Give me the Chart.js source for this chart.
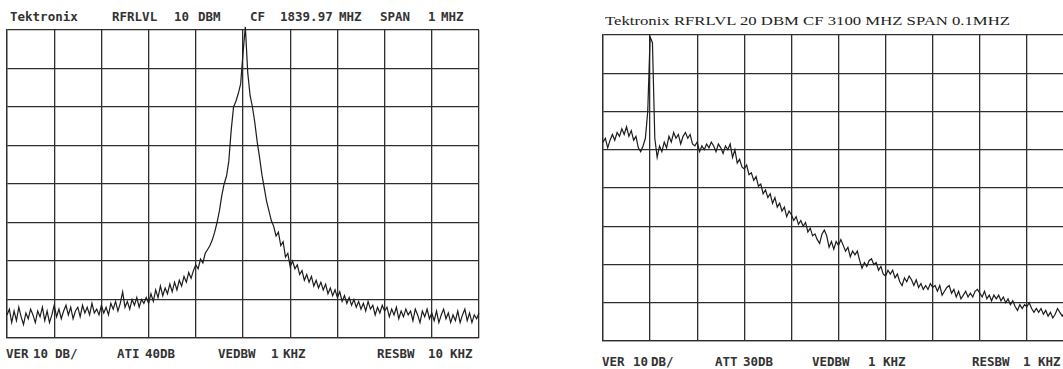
<!DOCTYPE html>
<html><head><meta charset="utf-8">
<script src="https://cdn.jsdelivr.net/npm/chart.js@4.4.1/dist/chart.umd.min.js"></script>
<style>
html,body{margin:0;padding:0;background:#fff;width:1063px;height:369px;overflow:hidden;position:relative}
.box{position:absolute}
.t{position:absolute;font-family:"DejaVu Sans Mono",monospace;font-weight:bold;font-size:12.5px;line-height:13px;color:#333;white-space:pre;transform-origin:0 0}
.s{font-family:"Liberation Serif","Times New Roman",serif;font-weight:normal;font-size:13.5px;line-height:13.5px;color:#222}
</style></head><body>
<div class="box" id="bl" style="left:3px;top:26px;width:480px;height:316px"><canvas id="cl"></canvas></div>
<div class="box" id="br" style="left:599px;top:31px;width:479px;height:314px"><canvas id="cr"></canvas></div>
<script>
// Left trace: RFRLVL 10 dBm, 10 dB/div, 201 sweep points across 1 MHz span
const leftLevels = [
 -64,-62.5,-66,-63,-65.5,-62,-64.5,-66.5,-63.5,-65,
 -62.5,-64,-66,-63,-64.5,-62,-65.5,-63,-66,-64,
 -61.5,-64.5,-62.5,-65,-63,-61.5,-64,-62,-65,-63,
 -62,-64.5,-61.5,-63.5,-62,-64,-61,-63.5,-62.5,-64,
 -61.5,-63.5,-62,-64,-61,-62.5,-60.5,-63,-61,-58,
 -62,-60.5,-62.5,-60,-61.5,-59.5,-62,-60,-61,-59.5,
 -61,-58.5,-60.5,-57.5,-59.5,-56.5,-59,-57,-58.5,-56,
 -58,-55.5,-57.5,-55,-56.5,-54,-55.5,-53,-54.5,-52.5,
 -51,-52,-49.5,-50.5,-48,-47,-46,-44.5,-42.5,-40,
 -37,-33,-30,-28,-24,-16,-10,-8.5,-6.5,-4,
 4,10.8,-1,-7,-10,-14,-19,-23,-27.5,-31,
 -34.5,-37,-39.5,-41,-43.5,-42.5,-46,-45,-49,-48,
 -51.5,-50,-52,-51,-53.5,-52.5,-55,-53.5,-55.5,-54,
 -56.5,-55,-57,-55.5,-57.5,-56,-58.5,-57,-59,-57.5,
 -59.5,-58,-60.5,-59,-61,-59.5,-61.5,-60,-62,-60.5,
 -62.5,-61,-63,-60.5,-62.5,-61.5,-64,-62,-63.5,-61.5,
 -63,-62,-64.5,-62.5,-64,-62,-65,-63,-64.5,-62.5,
 -64,-63,-65.5,-62.5,-64,-66,-63,-64.5,-62.5,-65,
 -63.5,-65.5,-63,-66,-64,-62.5,-65,-63.5,-66,-64,
 -65.5,-63,-66,-64,-62.5,-65.5,-63.5,-66,-64,-65,-63.5
];
// Right trace: RFRLVL 20 dBm, 10 dB/div, 201 sweep points across 0.1 MHz span
const rightLevels = [
 -8,-7,-9.5,-7.5,-6,-7.5,-5.5,-6.5,-4.5,-6,
 -4,-6.5,-5,-7.5,-6.5,-9.5,-10.5,-9,-7,0,
 19.5,18,-7,-12,-9,-10.5,-8,-9.5,-6.5,-8,
 -5.5,-7,-6,-8.5,-6.5,-5.5,-7,-6,-8.5,-9,
 -8,-10.5,-9,-10,-8.5,-9.5,-8,-9,-10.5,-8.5,
 -9.5,-11,-9,-10,-8.5,-12,-10,-13.5,-12.5,-14.5,
 -15,-14,-16.5,-16,-18,-17,-19.5,-19,-21.5,-20.5,
 -22.5,-21.5,-24,-22.5,-25,-24,-26,-25,-27.5,-26,
 -27,-28.5,-27.5,-29.5,-28.5,-30,-29,-31.5,-30.5,-32.5,
 -32,-33.5,-34.5,-32,-31,-32.5,-35.5,-34,-36,-34,
 -35,-33.5,-35,-36.5,-35.5,-38,-36.5,-37.5,-36.5,-39,
 -41,-39.5,-40.5,-39,-38.5,-40,-39.5,-41.5,-40.5,-42.5,
 -43,-41.5,-42.5,-41.5,-43.5,-42.5,-44.5,-45.5,-43.5,-44.5,
 -43,-44,-45.5,-44,-46,-45,-46.5,-45.5,-46.5,-45,
 -46,-45.5,-47,-45.5,-48,-47,-46,-45.5,-47.5,-46.5,
 -48.5,-47,-49,-48,-47,-48.5,-47.5,-48.5,-47,-46.5,
 -47.5,-48.5,-47,-49,-48,-49.5,-48,-49,-48,-49.5,
 -48.5,-50,-49,-50.5,-49.5,-51,-52,-50.5,-51.5,-50.5,
 -51,-50,-51.5,-52.5,-51.5,-52.5,-51.5,-53,-52,-53.5,
 -52.5,-54,-53,-51.5,-52.5,-53.5,-52.5,-54,-53,-54.5,-53.5
];
const sweepPoints = 200;          // x range 0..200, 10 divisions
const leftRange = [-70, 10];      // dBm, bottom..top
const rightRange = [-60, 20];

// Text labels: [text, left x, baseline y, target width (serif title only), class]
const labels = [
 ["Tektronix",10,21,0,""],["RFRLVL",112,21,0,""],["10",174,21,0,""],["DBM",198,21,0,""],
 ["CF",250,21,0,""],["1839.97",280,21,0,""],["MHZ",339,21,0,""],["SPAN",380,21,0,""],
 ["1",428,21,0,""],["MHZ",441,21,0,""],
 ["VER",6,358,0,""],["10",33,358,0,""],["DB/",55,358,0,""],["ATI",117,358,0,""],
 ["40DB",145,358,0,""],["VEDBW",218,358,0,""],["1",271,358,0,""],["KHZ",283,358,0,""],
 ["RESBW",377,358,0,""],["10",428,358,0,""],["KHZ",450,358,0,""],
 ["Tektronix RFRLVL 20 DBM CF 3100 MHZ SPAN 0.1MHZ",605,25,405,"s"],
 ["VER",602,366,0,""],["10",633,366,0,""],["DB/",651,366,0,""],["ATT",715,366,0,""],
 ["30DB",743,366,0,""],["VEDBW",812,366,0,""],["1",868,366,0,""],["KHZ",883,366,0,""],
 ["RESBW",972,366,0,""],["1",1023,366,0,""],["KHZ",1038,366,0,""]
];

labels.forEach(([txt,x,base,w,cls])=>{
  const s=document.createElement('span');
  s.className='t'+(cls?' '+cls:'');
  s.textContent=txt;
  const m=document.createElement('i');
  m.style.cssText='display:inline-block;width:0;height:0';
  s.appendChild(m);
  document.body.appendChild(s);
  const off=m.offsetTop;
  s.style.left=x+'px';
  s.style.top=(base-off)+'px';
  if(w>0){
    const aw=s.getBoundingClientRect().width;
    s.style.transform='scaleX('+(w/aw)+')';
  }
});

const gridCol='#2e2e2e';
function makeChart(id, levels, range){
  new Chart(document.getElementById(id),{
    type:'line',
    data:{datasets:[{
      data: levels.map((v,i)=>({x:i,y:v})),
      borderColor:'#1c1c1c', borderWidth:1.2, pointRadius:0, tension:0, clip:false, fill:false
    }]},
    options:{
      responsive:true, maintainAspectRatio:false, animation:false, events:[],
      layout:{padding:4},
      plugins:{legend:{display:false},tooltip:{enabled:false},title:{display:false}},
      scales:{
        x:{type:'linear',min:0,max:sweepPoints,
           ticks:{display:false,stepSize:20},
           grid:{color:gridCol,lineWidth:1.3,drawTicks:false},
           border:{color:gridCol,width:1.3}},
        y:{type:'linear',min:range[0],max:range[1],
           ticks:{display:false,stepSize:10},
           grid:{color:gridCol,lineWidth:1.3,drawTicks:false},
           border:{color:gridCol,width:1.3}}
      }
    }
  });
}
makeChart('cl', leftLevels, leftRange);
makeChart('cr', rightLevels, rightRange);
</script>
</body></html>
